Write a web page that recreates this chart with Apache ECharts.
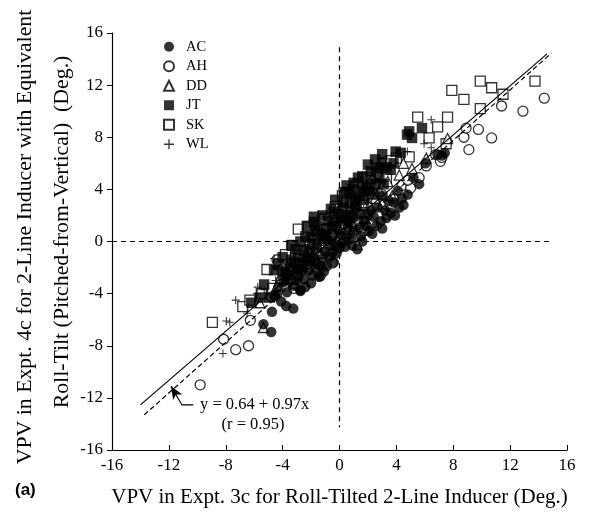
<!DOCTYPE html>
<html>
<head>
<meta charset="utf-8">
<script src="https://cdn.jsdelivr.net/npm/echarts@6/dist/echarts.min.js"></script>
<style>
  html, body { margin: 0; padding: 0; background: #fff; }
  #chart { width: 594px; height: 513px; }
</style>
</head>
<body>
<div id="chart"></div>
<script>
// subjects, in legend order
var subjects = ['AC', 'AH', 'DD', 'JT', 'SK', 'WL'];

var AC = [[-5.35,-6.35],[-4.8,-6.95],[-4.75,-5.4],[-4.55,-4.2],[-3.75,-4.95],[-3.25,-5.15],[-3.7,-3.9],[-3.2,-3.4],
  [-2.75,-3.8],[-2.9,-2.7],[-2.5,-2.9],[-2.2,-2.2],[-1.9,-2.6],[-1.45,-2.7],[-1.6,-1.7],[-1.2,-1.3],[-0.9,-1.9],
  [-0.5,-0.85],[-0.85,0.15],[-0.3,-0.2],[0.2,-0.1],[0.5,0.4],[1.0,0.8],[1.35,1.05],[1.25,-0.6],[2.05,0.8],[1.7,1.6],
  [2.4,1.9],[2.9,1.55],[2.7,2.6],[3.2,2.4],[3.5,3.1],[4.5,2.8],[4.8,3.6],[4.1,3.9],[5.6,4.4],[5.2,4.9],[6.05,6.0],
  [6.9,6.67],[7.4,6.8],[7.2,6.6],[3.0,3.5],[0.7,1.5],[-2.3,-1.2],
  [-3.5,-2.6],[-3.0,-3.0],[-2.6,-2.2],[-2.0,-1.5],[-1.7,-2.0],[-1.3,-1.9],[-1.0,-0.8],[-0.7,-1.2],[-0.2,-0.9],
  [0.1,0.5],[0.4,-0.4],[0.8,0.2],[1.5,0.4],[1.9,1.2],[2.2,2.4],[2.6,1.2],[3.6,2.2],[3.8,3.0],[4.2,2.6],[-4.1,-4.6],
  [-4.3,-3.5],[-2.4,-3.5],[1.0,1.8],[2.0,2.0],[3.3,1.8],[-0.1,0.9],[0.6,1.1],
  [-1.34,-2.66],[-2.75,-3.7],[-4.4,-4.06],[-2.0,-3.2],[-1.1,-2.3],[-0.4,-1.6],[0.0,-0.5],[0.9,-0.3],[1.6,0.0],
  [2.3,0.6],[3.0,1.0],[3.9,2.0],[4.4,3.3],[-3.9,-3.1],[-2.9,-2.2],[-1.8,-1.2],[-0.6,-0.3]];
var AH = [[-9.8,-11.0],[-8.15,-7.5],[-7.3,-8.3],[-6.4,-8.0],[-6.27,-6.05],[-4.8,-4.24],[-4.4,-1.4],[-4.1,-3.0],
  [-3.5,-2.2],[-2.9,-1.7],[-2.3,-0.6],[-1.8,-1.4],[-1.2,-0.5],[-0.5,-1.65],[-0.5,0.5],[0.1,1.1],[0.4,0.2],[0.9,1.9],
  [1.3,1.6],[2.0,2.2],[2.6,2.8],[3.36,2.07],[3.8,3.3],[4.4,4.3],[5.0,4.1],[5.6,4.9],[6.1,5.8],[6.76,6.67],[7.1,6.15],
  [7.2,6.45],[8.75,8.0],[8.9,8.7],[9.1,7.05],[9.77,8.6],[10.7,7.95],[11.4,10.4],[12.9,10.0],[14.4,11.0],
  [-3.2,-3.6],[-1.5,-2.3],[0.7,0.6],[1.7,0.8],[2.3,1.4],[4.8,4.7],[3.0,3.6],[1.0,3.2],[-0.9,1.6]];
var DD = [[-5.35,-6.6],[-5.6,-4.7],[-4.4,-3.4],[-3.6,-2.5],[-2.7,-1.9],[-1.9,-1.0],[-1.3,-0.9],[-0.7,-0.1],[0.3,0.7],
  [1.25,-0.23],[0.9,1.4],[1.5,2.3],[2.1,2.8],[2.5,3.3],[3.0,2.9],[3.7,3.5],[3.4,4.6],[4.2,5.1],[4.5,6.0],[5.1,5.6],
  [6.1,6.4],[7.6,7.9],[-3.1,-3.2],[0.0,0.3],
  [-2.3,-1.1],[-1.0,0.2],[0.6,1.0],[1.8,1.8],[2.8,3.9],[-4.0,-1.8],[-0.2,1.3],[1.1,2.9],[2.3,4.9],[-1.6,0.9]];
var JT = [[-6.2,-4.7],[-5.3,-3.3],[-4.9,-4.3],[-4.3,-1.8],[-4.0,-2.6],[-3.7,-2.9],[-3.4,-1.4],[-3.0,-2.1],[-2.85,-1.25],
  [-2.75,0.0],[-2.5,-0.7],[-2.2,-1.5],[-2.0,0.3],[-1.7,0.8],[-1.6,-0.5],[-1.55,1.2],[-1.2,0.2],[-0.9,1.0],[-0.6,0.4],
  [-0.4,2.3],[-0.25,1.5],[0.2,2.6],[0.4,1.8],[0.65,3.7],[0.8,2.5],[1.1,3.0],[1.3,2.1],[1.7,3.85],[1.7,3.2],[2.2,4.75],
  [2.4,3.6],[2.65,5.65],[2.9,5.65],[3.1,4.4],[3.6,5.5],[3.95,6.9],[4.3,6.8],[4.9,8.45],[5.1,7.95],[4.75,8.2],[5.8,8.7],
  [-3.8,-2.3],[-3.5,-2.0],[-3.2,-1.6],[-3.1,-0.6],[-2.6,-1.7],[-2.4,0.4],[-2.1,-0.8],[-1.9,-0.2],[-1.8,1.5],[-1.35,0.6],
  [-1.0,0.5],[-0.8,1.6],[-0.5,1.2],[-0.1,2.1],[0.1,1.6],[0.3,3.0],[0.6,2.0],[0.9,3.3],[1.2,2.7],[1.4,3.5],[1.6,4.3],
  [1.9,4.1],[2.1,3.9],[2.5,4.4],[2.8,4.9],[3.3,5.7],[3.0,6.1],[3.8,6.0],[0.9,4.0],[-4.6,-2.2],[-5.6,-4.3],[-0.3,3.2],
  [-1.8,1.9],[-1.2,2.0],[-0.6,2.5],[0.3,3.8],[1.0,4.5],[1.6,5.0],[2.0,5.9],[2.5,6.3],[3.0,6.7],[0.5,4.3],[-2.3,1.2],
  [-3.4,-0.3],[-4.0,-1.2],[1.3,4.9],[2.2,5.4]];
var SK = [[-8.94,-6.2],[-6.8,-5.0],[-6.3,-4.5],[-5.5,-4.0],[-5.1,-2.15],[-4.3,-1.76],[-4.7,-3.6],[-3.8,-1.0],[-3.3,-0.3],
  [-2.9,0.95],[-2.85,-1.1],[-2.2,1.1],[-1.5,0.5],[-1.0,1.8],[-0.3,2.7],[0.2,3.5],[0.5,3.1],[1.0,3.9],[1.6,2.8],[2.0,4.9],
  [2.6,5.2],[3.3,4.8],[4.0,6.4],[4.9,6.5],[5.5,9.55],[6.3,7.95],[6.9,8.8],[7.5,7.5],[7.6,9.55],[7.9,11.6],[8.75,10.9],
  [9.9,10.2],[9.9,12.3],[10.7,11.8],[11.5,11.3],[13.75,12.3],
  [-3.6,-2.2],[-1.8,-0.2],[0.8,3.0],[1.3,4.4],[2.3,3.7],[3.6,6.2],[0.54,3.75],[-1.1,1.7]];
var WL = [[-8.2,-8.6],[-7.96,-6.1],[-7.72,-6.2],[-7.3,-4.5],[-5.75,-3.5],[-5.3,-3.7],[-5.8,-4.0],[-4.5,-3.0],[-4.6,-1.3],
  [-3.8,-2.1],[-3.2,-0.9],[-2.4,-0.3],[-1.5,0.1],[-0.7,0.8],[-0.2,2.0],[0.7,1.1],[1.3,2.4],[2.0,3.0],[2.8,3.7],[3.6,5.8],
  [4.77,6.9],[5.95,7.5],[6.45,7.2],[6.45,9.35],[-6.5,-5.5],
  [-2.8,-1.3],[-1.1,-0.3],[0.3,1.7],[1.7,2.6],[2.4,4.0],[3.2,4.6],[-3.6,-3.3]];

// fitted line (y = 0.64 + 0.97x) and the dashed reference line
var fitLine = [[-14, -12.54], [14.6, 14.4]];
var refLine = [[-13.73, -13.3], [14.9, 14.45]];
var zeroV = [[0, 14.9], [0, -14.25]];
var zeroH = [[-16, 0], [15, 0]];
var arrowPts = [[-10.28, -12.54], [-11.08, -12.54], [-11.85, -11.1]];

var serif = 'Liberation Serif';
var plusPath = 'path://M4.35,0H5.65V4.35H10V5.65H5.65V10H4.35V5.65H0V4.35H4.35Z';

function pts(name, data, symbol, size, filled) {
  return {
    name: name,
    type: 'scatter',
    data: data,
    symbol: symbol,
    symbolSize: size,
    itemStyle: filled ? { color: '#000' } : { color: '#fff', borderColor: '#000', borderWidth: 1.3 },
    emphasis: { disabled: true }
  };
}

function line(data, type, z) {
  return {
    type: 'line',
    data: data,
    symbol: 'none',
    silent: true,
    z: z,
    lineStyle: { color: '#000', width: 1.2, type: type }
  };
}

var myChart = echarts.init(document.getElementById('chart'));
myChart.setOption({
  animation: false,
  backgroundColor: '#fff',
  grid: { left: 112, right: 27, top: 33, bottom: 63 },
  legend: {
    data: subjects,
    orient: 'vertical',
    left: 163,
    top: 37,
    padding: 0,
    itemGap: 0,
    itemWidth: 10,
    itemHeight: 10,
    textStyle: { fontFamily: serif, fontSize: 14.5, color: '#000', lineHeight: 19.5, padding: [0, 0, 0, 7] }
  },
  xAxis: {
    type: 'value', min: -16, max: 16, interval: 4,
    name: 'VPV in Expt. 3c for Roll-Tilted 2-Line Inducer (Deg.)',
    nameLocation: 'middle', nameGap: 37,
    nameTextStyle: { fontFamily: serif, fontSize: 21, color: '#000' },
    axisLine: { onZero: false, lineStyle: { color: '#000', width: 1.2 } },
    axisTick: { inside: true, length: 5, lineStyle: { color: '#000' } },
    axisLabel: { fontFamily: serif, fontSize: 17, color: '#000', margin: 7 },
    splitLine: { show: false }
  },
  yAxis: {
    type: 'value', min: -16, max: 16, interval: 4,
    axisLine: { onZero: false, lineStyle: { color: '#000', width: 1.2 } },
    axisTick: { inside: false, length: 5, lineStyle: { color: '#000' } },
    axisLabel: { fontFamily: serif, fontSize: 17, color: '#000', margin: 9 },
    splitLine: { show: false }
  },
  graphic: [
    { type: 'text', x: 25, y: 237, rotation: Math.PI / 2,
      style: { text: 'VPV in Expt. 4c for 2-Line Inducer with Equivalent', fontFamily: serif, fontSize: 21.8,
        fill: '#000', align: 'center', verticalAlign: 'middle' } },
    { type: 'text', x: 62, y: 232, rotation: Math.PI / 2,
      style: { text: 'Roll-Tilt (Pitched-from-Vertical)  (Deg.)', fontFamily: serif, fontSize: 21.8,
        fill: '#000', align: 'center', verticalAlign: 'middle' } },
    { type: 'text', x: 15, y: 490,
      style: { text: '(a)', fontFamily: 'Liberation Sans', fontWeight: 'bold', fontSize: 17,
        fill: '#000', align: 'left', verticalAlign: 'middle' } },
    { type: 'text', x: 200, y: 405,
      style: { text: 'y = 0.64 + 0.97x', fontFamily: serif, fontSize: 16.5,
        fill: '#000', align: 'left', verticalAlign: 'middle' } },
    { type: 'text', x: 253, y: 425,
      style: { text: '(r = 0.95)', fontFamily: serif, fontSize: 16.5,
        fill: '#000', align: 'center', verticalAlign: 'middle' } }
  ],
  series: [
    pts('AH', AH, 'circle', 10, false),
    pts('SK', SK, 'rect', 10, false),
    pts('DD', DD, 'triangle', 10, false),
    pts('WL', WL, plusPath, 8, true),
    pts('JT', JT, 'rect', 10.5, true),
    pts('AC', AC, 'circle', 10.5, true),
    line(fitLine, 'solid', 5),
    line(refLine, [5, 3], 5),
    line(zeroV, [5, 4], 5),
    line(zeroH, [5, 4], 5),
    {
      type: 'line',
      data: arrowPts.map(function (p, i) {
        return i === arrowPts.length - 1
          ? { value: p, symbol: 'arrow', symbolSize: [8, 13], symbolRotate: 31 }
          : { value: p, symbol: 'none' };
      }),
      silent: true,
      z: 6,
      itemStyle: { color: '#000' },
      lineStyle: { color: '#000', width: 1.1 }
    }
  ]
});
</script>
</body>
</html>
